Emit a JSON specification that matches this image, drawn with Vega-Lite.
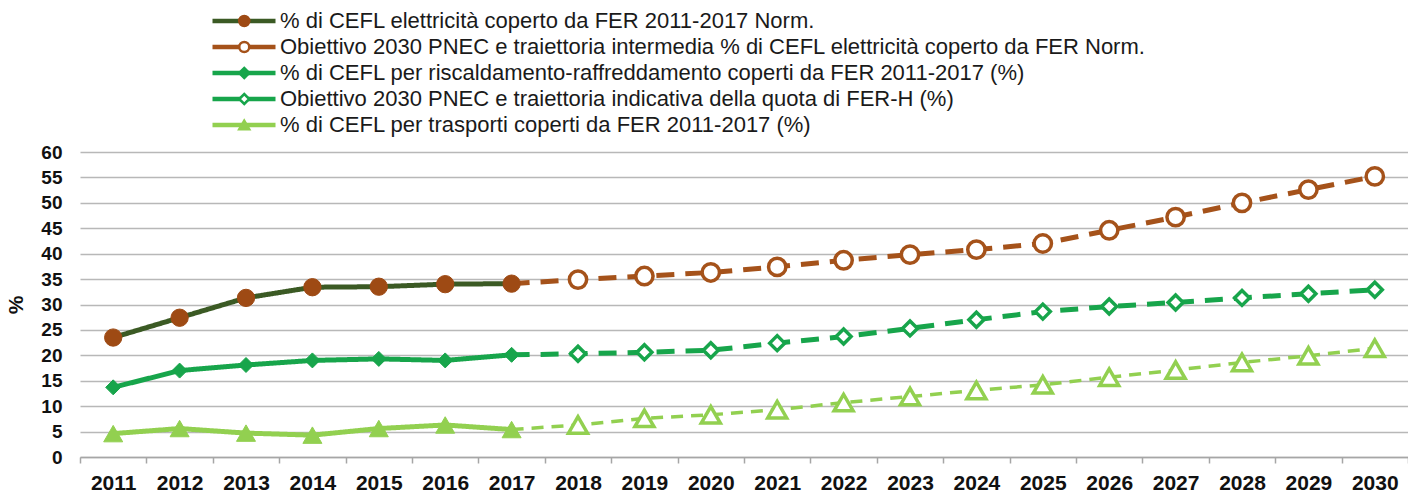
{
  "$schema": "https://vega.github.io/schema/vega-lite/v6.json",
  "width": 1328,
  "height": 305,
  "autosize": {"type": "none"},
  "padding": {"left": 80, "top": 152, "right": 0, "bottom": 36},
  "background": "white",
  "config": {"view": {"stroke": null}, "font": "Liberation Sans"},
  "data": {"values": [
    {"anno": 2011, "serie": "S1", "tipo": "storico", "valore": 23.5},
    {"anno": 2012, "serie": "S1", "tipo": "storico", "valore": 27.4},
    {"anno": 2013, "serie": "S1", "tipo": "storico", "valore": 31.3},
    {"anno": 2014, "serie": "S1", "tipo": "storico", "valore": 33.4},
    {"anno": 2015, "serie": "S1", "tipo": "storico", "valore": 33.5},
    {"anno": 2016, "serie": "S1", "tipo": "storico", "valore": 34.0},
    {"anno": 2017, "serie": "S1", "tipo": "storico", "valore": 34.1},
    {"anno": 2017, "serie": "S2", "tipo": "obiettivo", "valore": 34.1},
    {"anno": 2018, "serie": "S2", "tipo": "obiettivo", "valore": 34.9},
    {"anno": 2019, "serie": "S2", "tipo": "obiettivo", "valore": 35.6},
    {"anno": 2020, "serie": "S2", "tipo": "obiettivo", "valore": 36.3},
    {"anno": 2021, "serie": "S2", "tipo": "obiettivo", "valore": 37.4},
    {"anno": 2022, "serie": "S2", "tipo": "obiettivo", "valore": 38.7},
    {"anno": 2023, "serie": "S2", "tipo": "obiettivo", "valore": 39.8},
    {"anno": 2024, "serie": "S2", "tipo": "obiettivo", "valore": 40.8},
    {"anno": 2025, "serie": "S2", "tipo": "obiettivo", "valore": 42.0},
    {"anno": 2026, "serie": "S2", "tipo": "obiettivo", "valore": 44.6},
    {"anno": 2027, "serie": "S2", "tipo": "obiettivo", "valore": 47.2},
    {"anno": 2028, "serie": "S2", "tipo": "obiettivo", "valore": 50.0},
    {"anno": 2029, "serie": "S2", "tipo": "obiettivo", "valore": 52.6},
    {"anno": 2030, "serie": "S2", "tipo": "obiettivo", "valore": 55.2},
    {"anno": 2011, "serie": "S3", "tipo": "storico", "valore": 13.7},
    {"anno": 2012, "serie": "S3", "tipo": "storico", "valore": 17.0},
    {"anno": 2013, "serie": "S3", "tipo": "storico", "valore": 18.1},
    {"anno": 2014, "serie": "S3", "tipo": "storico", "valore": 19.0},
    {"anno": 2015, "serie": "S3", "tipo": "storico", "valore": 19.3},
    {"anno": 2016, "serie": "S3", "tipo": "storico", "valore": 19.0},
    {"anno": 2017, "serie": "S3", "tipo": "storico", "valore": 20.1},
    {"anno": 2017, "serie": "S4", "tipo": "obiettivo", "valore": 20.1},
    {"anno": 2018, "serie": "S4", "tipo": "obiettivo", "valore": 20.3},
    {"anno": 2019, "serie": "S4", "tipo": "obiettivo", "valore": 20.6},
    {"anno": 2020, "serie": "S4", "tipo": "obiettivo", "valore": 21.0},
    {"anno": 2021, "serie": "S4", "tipo": "obiettivo", "valore": 22.4},
    {"anno": 2022, "serie": "S4", "tipo": "obiettivo", "valore": 23.7},
    {"anno": 2023, "serie": "S4", "tipo": "obiettivo", "valore": 25.3},
    {"anno": 2024, "serie": "S4", "tipo": "obiettivo", "valore": 27.0},
    {"anno": 2025, "serie": "S4", "tipo": "obiettivo", "valore": 28.6},
    {"anno": 2026, "serie": "S4", "tipo": "obiettivo", "valore": 29.6},
    {"anno": 2027, "serie": "S4", "tipo": "obiettivo", "valore": 30.4},
    {"anno": 2028, "serie": "S4", "tipo": "obiettivo", "valore": 31.3},
    {"anno": 2029, "serie": "S4", "tipo": "obiettivo", "valore": 32.1},
    {"anno": 2030, "serie": "S4", "tipo": "obiettivo", "valore": 32.9},
    {"anno": 2011, "serie": "S5", "tipo": "storico", "valore": 4.6},
    {"anno": 2012, "serie": "S5", "tipo": "storico", "valore": 5.6},
    {"anno": 2013, "serie": "S5", "tipo": "storico", "valore": 4.7},
    {"anno": 2014, "serie": "S5", "tipo": "storico", "valore": 4.3},
    {"anno": 2015, "serie": "S5", "tipo": "storico", "valore": 5.6},
    {"anno": 2016, "serie": "S5", "tipo": "storico", "valore": 6.3},
    {"anno": 2017, "serie": "S5", "tipo": "storico", "valore": 5.4},
    {"anno": 2017, "serie": "S6", "tipo": "obiettivo", "valore": 5.4},
    {"anno": 2018, "serie": "S6", "tipo": "obiettivo", "valore": 6.3},
    {"anno": 2019, "serie": "S6", "tipo": "obiettivo", "valore": 7.6},
    {"anno": 2020, "serie": "S6", "tipo": "obiettivo", "valore": 8.3},
    {"anno": 2021, "serie": "S6", "tipo": "obiettivo", "valore": 9.3},
    {"anno": 2022, "serie": "S6", "tipo": "obiettivo", "valore": 10.7},
    {"anno": 2023, "serie": "S6", "tipo": "obiettivo", "valore": 11.9},
    {"anno": 2024, "serie": "S6", "tipo": "obiettivo", "valore": 13.1},
    {"anno": 2025, "serie": "S6", "tipo": "obiettivo", "valore": 14.2},
    {"anno": 2026, "serie": "S6", "tipo": "obiettivo", "valore": 15.7},
    {"anno": 2027, "serie": "S6", "tipo": "obiettivo", "valore": 17.1},
    {"anno": 2028, "serie": "S6", "tipo": "obiettivo", "valore": 18.6},
    {"anno": 2029, "serie": "S6", "tipo": "obiettivo", "valore": 19.9},
    {"anno": 2030, "serie": "S6", "tipo": "obiettivo", "valore": 21.4}
  ]},
  "encoding": {
    "x": {
      "field": "anno", "type": "ordinal",
      "scale": {"type": "band", "paddingInner": 0, "paddingOuter": 0},
      "axis": {
        "title": null, "labelAngle": 0, "labelFont": "Liberation Sans", "labelFontSize": 21,
        "labelFontWeight": "bold", "labelColor": "#111111", "labelPadding": 9,
        "tickBand": "extent", "tickSize": 6, "tickColor": "#a6a6a6", "tickWidth": 1.5,
        "domainColor": "#a6a6a6", "domainWidth": 1.5, "grid": false, "labelOverlap": false
      }
    },
    "y": {
      "field": "valore", "type": "quantitative",
      "scale": {"domain": [0, 60], "nice": false},
      "axis": {
        "title": "%", "titleFont": "Liberation Sans", "titleFontSize": 21, "titleFontWeight": "bold",
        "titleColor": "#111111", "titlePadding": 14,
        "values": [0, 5, 10, 15, 20, 25, 30, 35, 40, 45, 50, 55, 60],
        "labelFont": "Liberation Sans", "labelFontSize": 19, "labelFontWeight": "bold", "labelColor": "#111111",
        "labelPadding": 18, "ticks": false, "domain": false,
        "grid": true, "gridColor": "#b8b8b8", "gridWidth": 1.5
      }
    }
  },
  "layer": [
    {
      "mark": {"type": "line", "strokeCap": "butt", "strokeJoin": "round"},
      "encoding": {
        "color": {
          "field": "serie", "type": "nominal",
          "scale": {"domain": ["S1", "S2", "S3", "S4", "S5", "S6"],
                    "range": ["#3b5a24", "#a5521a", "#17a54b", "#17a54b", "#92d050", "#92d050"]},
          "legend": {
            "orient": "none", "legendX": 130, "legendY": -144, "title": null,
            "values": ["S1", "S2", "S3", "S4", "S5"],
            "labelExpr": "{'S1': '% di CEFL elettricità coperto da FER 2011-2017 Norm.', 'S2': 'Obiettivo 2030 PNEC e traiettoria intermedia % di CEFL elettricità coperto da FER Norm.', 'S3': '% di CEFL per riscaldamento-raffreddamento coperti da FER 2011-2017 (%)', 'S4': 'Obiettivo 2030 PNEC e traiettoria indicativa della quota di FER-H (%)', 'S5': '% di CEFL per trasporti coperti da FER 2011-2017 (%)'}[datum.value]",
            "symbolType": "stroke", "symbolSize": 3969, "symbolStrokeWidth": 4.5,
            "clipHeight": 26, "rowPadding": 0, "padding": 0,
            "labelFont": "Liberation Sans", "labelFontSize": 22, "labelColor": "#1a1a1a",
            "labelOffset": 2, "labelLimit": 1300, "zindex": 0, "direction": "vertical"
          }
        },
        "strokeDash": {
          "condition": [
            {"test": "datum.tipo == 'storico'", "value": [1, 0]},
            {"test": "datum.serie == 'S6'", "value": [12, 8]}
          ],
          "value": [18, 11]
        },
        "strokeWidth": {
          "condition": {"test": "datum.serie == 'S6'", "value": 3.5},
          "value": 5
        }
      }
    },
    {
      "transform": [{"filter": "datum.tipo == 'storico' || datum.anno > 2017"}],
      "mark": {"type": "point", "opacity": 1},
      "encoding": {
        "fill": {
          "field": "serie", "type": "nominal",
          "scale": {"domain": ["S1", "S2", "S3", "S4", "S5", "S6", "S7"],
                    "range": ["#9e4a14", "#ffffff", "#17a54b", "#ffffff", "#92d050", "#ffffff", "#ffffff"]},
          "legend": {
            "orient": "none", "legendX": 130, "legendY": -144, "title": null,
            "values": ["S1", "S2", "S3", "S4", "S5"], "labelExpr": "''",
            "symbolSize": 100, "symbolStrokeWidth": 2.5, "symbolOffset": 23.25,
            "symbolFillColor": "#ffffff", "symbolStrokeColor": "#000000",
            "clipHeight": 26, "rowPadding": 0, "padding": 0,
            "labelFontSize": 22, "labelOpacity": 0, "labelLimit": 1300, "zindex": 1, "direction": "vertical"
          }
        },
        "stroke": {
          "field": "serie", "type": "nominal",
          "scale": {"domain": ["S1", "S2", "S3", "S4", "S5", "S6", "S7"],
                    "range": ["#9e4a14", "#a5521a", "#17a54b", "#17a54b", "#92d050", "#92d050", "#000000"]},
          "legend": {
            "orient": "none", "legendX": 130, "legendY": -144, "title": null,
            "values": ["S1", "S2", "S3", "S4", "S5"], "labelExpr": "''",
            "symbolSize": 100, "symbolStrokeWidth": 2.5, "symbolOffset": 23.25,
            "symbolFillColor": "#ffffff", "symbolStrokeColor": "#000000",
            "clipHeight": 26, "rowPadding": 0, "padding": 0,
            "labelFontSize": 22, "labelOpacity": 0, "labelLimit": 1300, "zindex": 1, "direction": "vertical"
          }
        },
        "shape": {
          "field": "serie", "type": "nominal",
          "scale": {"domain": ["S1", "S2", "S3", "S4", "S5", "S6", "S7"],
                    "range": ["circle", "circle", "diamond", "diamond", "triangle-up", "triangle-up", "square"]},
          "legend": {
            "orient": "none", "legendX": 130, "legendY": -144, "title": null,
            "values": ["S1", "S2", "S3", "S4", "S5"], "labelExpr": "''",
            "symbolSize": 100, "symbolStrokeWidth": 2.5, "symbolOffset": 23.25,
            "symbolFillColor": "#ffffff", "symbolStrokeColor": "#000000",
            "clipHeight": 26, "rowPadding": 0, "padding": 0,
            "labelFontSize": 22, "labelOpacity": 0, "labelLimit": 1300, "zindex": 1, "direction": "vertical"
          }
        },
        "size": {
          "condition": [
            {"test": "datum.serie == 'S1' || datum.serie == 'S2'", "value": 300},
            {"test": "datum.serie == 'S5' || datum.serie == 'S6'", "value": 361}
          ],
          "value": 225
        },
        "strokeWidth": {
          "condition": {"test": "datum.tipo == 'obiettivo'", "value": 3.5},
          "value": 1
        }
      }
    }
  ]
}
